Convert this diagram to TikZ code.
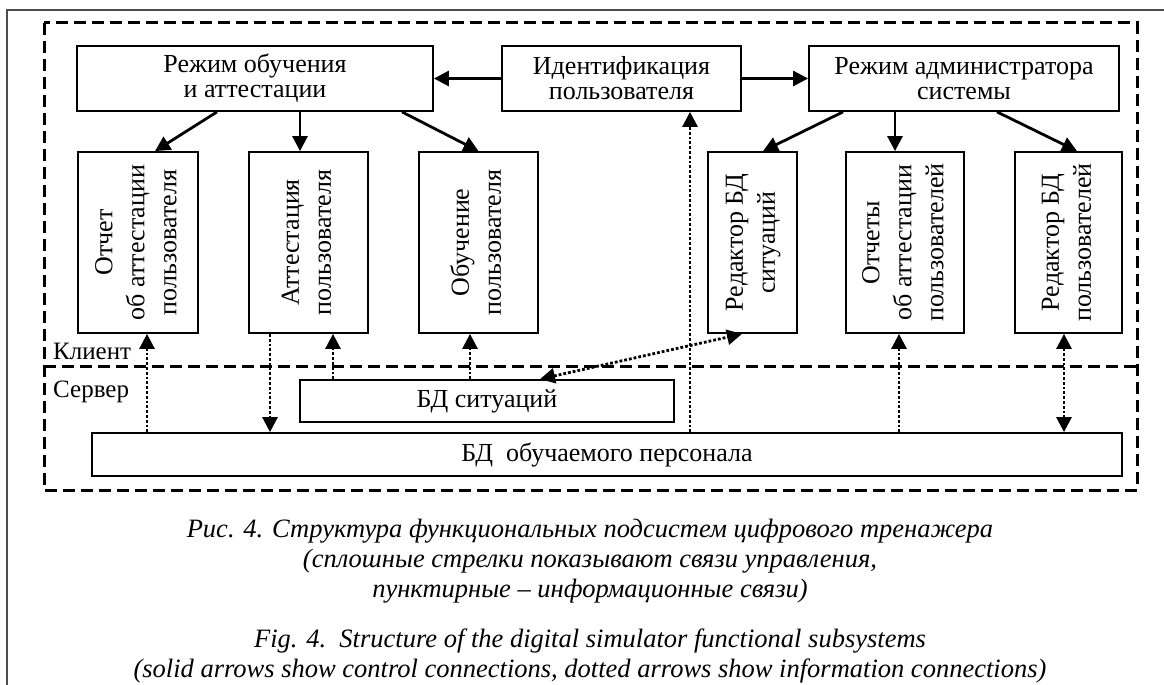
\documentclass[tikz,border=0pt]{standalone}
\usepackage{fontspec}
\setmainfont{Liberation Serif}
\usepackage{graphicx}
\usetikzlibrary{arrows.meta,calc}
\newcommand{\uptext}[1]{\rotatebox{90}{\fontsize{26}{32}\selectfont\begin{tabular}{@{}c@{}}#1\end{tabular}}}
\begin{document}
\begin{tikzpicture}[x=1pt,y=-1pt,>={Triangle[length=15pt,width=15pt]},
  box/.style={draw,line width=1.8pt,inner sep=0pt},
  modebox/.style={box,minimum height=65pt,align=center,font=\fontsize{26}{25}\selectfont},
  sidebox/.style={box,minimum height=181pt},
  dbbox/.style={box,font=\fontsize{26}{26}\selectfont},
  ctrl/.style={line width=2.8pt,->},
  info/.style={line width=2.8pt,dash pattern=on 2.8pt off 2pt,->},
  zone/.style={line width=3pt,dash pattern=on 12pt off 6pt},
  zonelabel/.style={anchor=base west,inner sep=0pt,font=\fontsize{25}{25}\selectfont},
  caption/.style={anchor=north,inner sep=0pt,align=center,font=\fontsize{26.5}{30}\selectfont\itshape}]
  \useasboundingbox (0,0) rectangle (1164,685);
  \draw[line width=1.5pt,black!70] (7,685) -- (7,10) -- (1164,10);
  \draw[zone] (44,23) rectangle (1137,490);
  \draw[zone] (44,366) -- (1137,366);
  \node[zonelabel] (client) at (53,359) {Клиент};
  \node[zonelabel] (server) at (53,397) {Сервер};

  \node[modebox,minimum width=356pt] (learnmode) at (255,78.5) {Режим обучения\\и аттестации};
  \node[modebox,minimum width=239pt] (ident) at (621.5,78.5) {Идентификация\\пользователя};
  \node[modebox,minimum width=310pt] (adminmode) at (964,78.5) {Режим администратора\\системы};

  \node[sidebox,minimum width=120pt] (report) at (138,242.5) {\uptext{Отчет\\об аттестации\\пользователя}};
  \node[sidebox,minimum width=119pt] (exam) at (308.5,242.5) {\uptext{Аттестация\\пользователя}};
  \node[sidebox,minimum width=119pt] (train) at (478.5,242.5) {\uptext{Обучение\\пользователя}};
  \node[sidebox,minimum width=89pt] (sitedit) at (752.5,242.5) {\uptext{Редактор БД\\ситуаций}};
  \node[sidebox,minimum width=118pt] (reports) at (905,242.5) {\uptext{Отчеты\\об аттестации\\пользователей}};
  \node[sidebox,minimum width=107pt] (useredit) at (1068.5,242.5) {\uptext{Редактор БД\\пользователей}};

  \node[dbbox,minimum width=374pt,minimum height=42pt] (sitdb) at (487,401) {БД ситуаций};
  \node[dbbox,minimum width=1030pt,minimum height=43pt] (staffdb) at (607,454.5) {БД\ \ обучаемого персонала};

  \draw[ctrl] (ident) -- (learnmode);
  \draw[ctrl] (ident) -- (adminmode);
  \draw[ctrl] ($(learnmode.south)+(-38,0)$) -- ($(report.north)+(17,0)$);
  \draw[ctrl] ($(learnmode.south)+(45,0)$) -- ($(exam.north)+(-8.5,0)$);
  \draw[ctrl] ($(learnmode.south)+(147,0)$) -- (train.north);
  \draw[ctrl] ($(adminmode.south)+(-121,0)$) -- ($(sitedit.north)+(10.5,0)$);
  \draw[ctrl] ($(adminmode.south)+(-69,0)$) -- ($(reports.north)+(-10,0)$);
  \draw[ctrl] ($(adminmode.south)+(33,0)$) -- ($(useredit.north)+(8.5,0)$);

  \draw[info] ($(staffdb.north)+(-460,0)$) -- ($(report.south)+(9,0)$);
  \draw[info] ($(exam.south)+(-38.5,0)$) -- ($(staffdb.north)+(-337,0)$);
  \draw[info] ($(sitdb.north)+(-154,0)$) -- ($(exam.south)+(24.5,0)$);
  \draw[info] ($(sitdb.north)+(-17,0)$) -- ($(train.south)+(-8.5,0)$);
  \draw[info] ($(staffdb.north)+(83,0)$) -- ($(ident.south)+(68.5,0)$);
  \draw[info,<->] ($(sitdb.north)+(53,0)$) -- ($(sitedit.south)+(-10.5,0)$);
  \draw[info] ($(staffdb.north)+(292,0)$) -- ($(reports.south)+(-6,0)$);
  \draw[info,<->] ($(useredit.south)+(-4.5,0)$) -- ($(staffdb.north)+(457,0)$);

  \node[caption] (capru) at (590,519) {Рис. 4. Структура функциональных подсистем цифрового тренажера\\(сплошные стрелки показывают связи управления,\\пунктирные – информационные связи)};
  \node[caption] (capen) at (590,629) {Fig. 4.\ \ Structure of the digital simulator functional subsystems\\(solid arrows show control connections, dotted arrows show information connections)};
\end{tikzpicture}
\end{document}
